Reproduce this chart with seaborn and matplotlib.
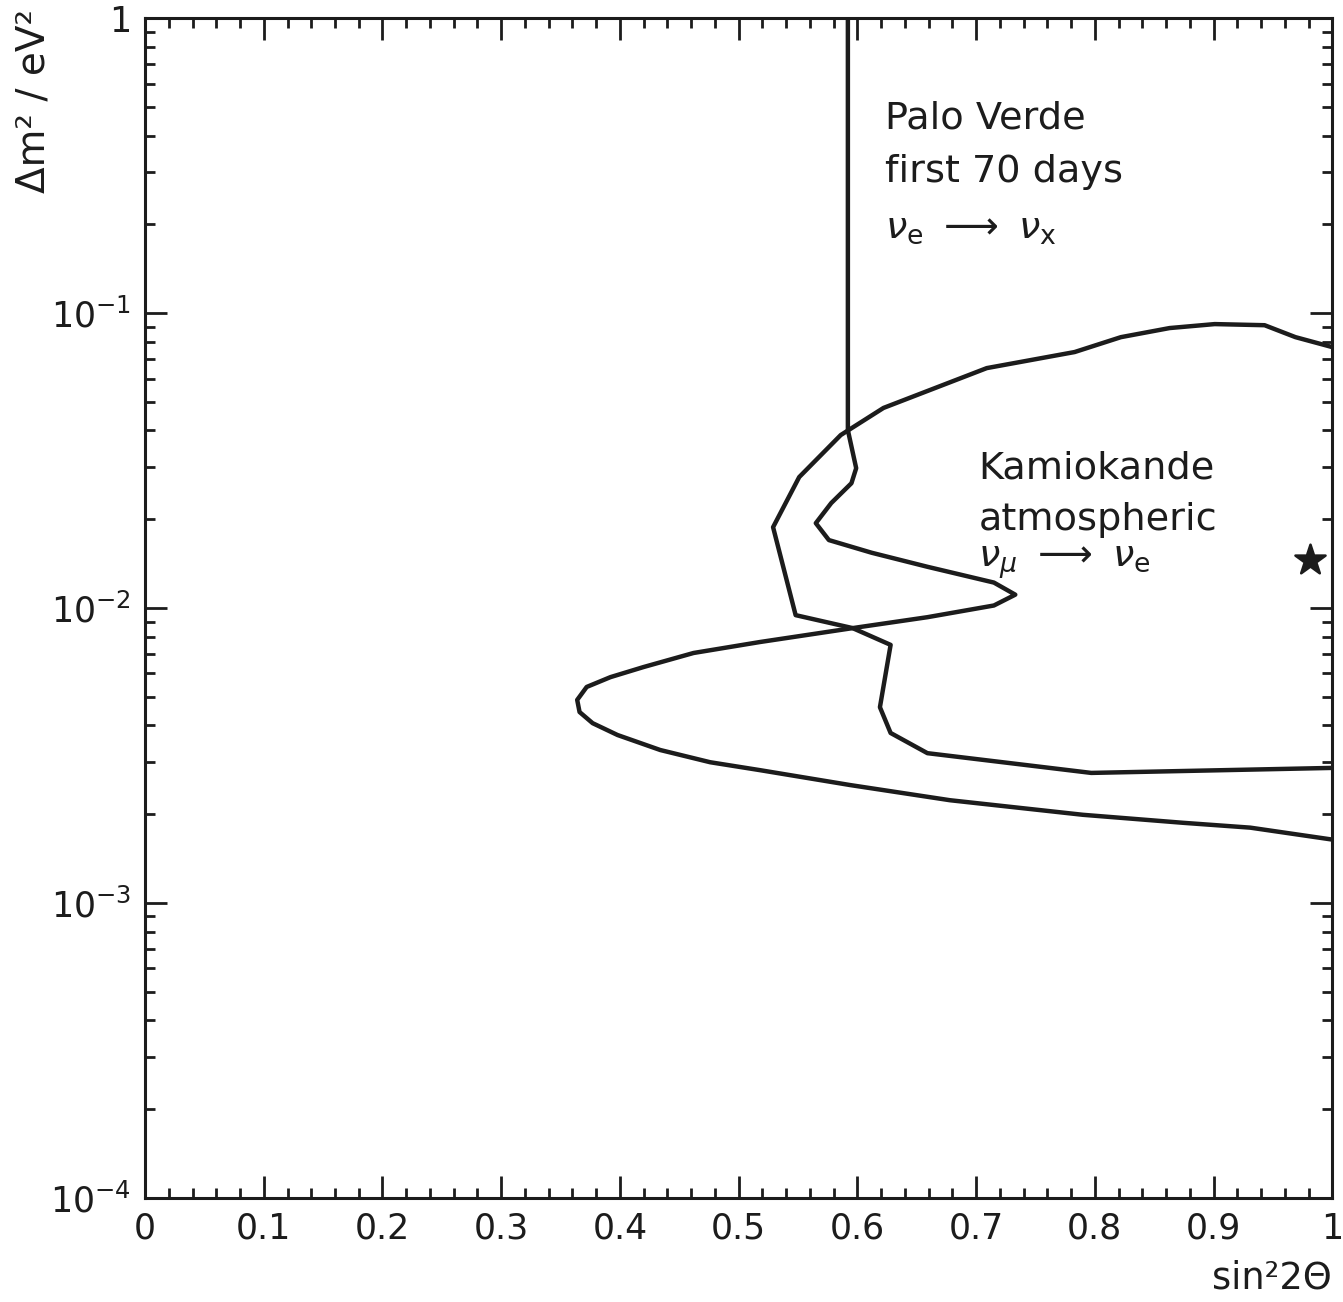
import numpy as np
import pandas as pd
import matplotlib
matplotlib.use("Agg")
import matplotlib.pyplot as plt
import matplotlib.ticker as mticker
import seaborn as sns

# Palo Verde exclusion curve (first 70 days)
pv_sin2 = [0.592, 0.592, 0.599, 0.595, 0.578, 0.565, 0.576, 0.612, 0.659, 0.715,
           0.733, 0.715, 0.659, 0.602, 0.518, 0.462, 0.420, 0.392, 0.372, 0.364,
           0.366, 0.377, 0.398, 0.434, 0.476, 0.518, 0.594, 0.678, 0.790, 0.874,
           0.931, 1.0]
pv_dm2 = [1.0, 0.0401, 0.0298, 0.0265, 0.0227, 0.0194, 0.0170, 0.0154, 0.0138, 0.0122,
          0.0111, 0.0102, 0.00931, 0.00862, 0.00767, 0.00704, 0.00631, 0.00583, 0.00540, 0.00488,
          0.00444, 0.00407, 0.00371, 0.00330, 0.00300, 0.00282, 0.00251, 0.00223, 0.00199, 0.00187,
          0.00180, 0.00164]

# Kamiokande atmospheric allowed region
ka_sin2 = [1.0, 0.969, 0.943, 0.901, 0.863, 0.822, 0.783, 0.709, 0.622, 0.586,
           0.551, 0.529, 0.548, 0.596, 0.628, 0.619, 0.628, 0.659, 0.797, 1.0]
ka_dm2 = [0.0767, 0.0829, 0.0910, 0.0918, 0.0890, 0.0829, 0.0738, 0.0651, 0.0477, 0.0386,
          0.0278, 0.0188, 0.00946, 0.00855, 0.00750, 0.00461, 0.00377, 0.00322, 0.00276, 0.00287]

# best fit point
best_sin2 = [0.981]
best_dm2 = [0.01455]

x_ticks = [0, 0.1, 0.2, 0.3, 0.4, 0.5, 0.6, 0.7, 0.8, 0.9, 1.0]
x_ticklabels = ["0", "0.1", "0.2", "0.3", "0.4", "0.5", "0.6", "0.7", "0.8", "0.9", "1"]
y_ticks = [1e-4, 1e-3, 1e-2, 1e-1, 1]
y_ticklabels = [r"$10^{-4}$", r"$10^{-3}$", r"$10^{-2}$", r"$10^{-1}$", "1"]

sns.set_theme(style="ticks")
plt.rcParams['font.family'] = ['DejaVu Sans']
plt.rcParams['mathtext.fontset'] = 'dejavusans'

INK = "#1c1c1c"

pv = pd.DataFrame({"sin2": pv_sin2, "dm2": pv_dm2})
ka = pd.DataFrame({"sin2": ka_sin2, "dm2": ka_dm2})

fig = plt.figure(figsize=(13.43, 13.02), dpi=100)
ax = fig.add_axes([0.108, 0.080, 0.884, 0.906])

sns.lineplot(data=pv, x="sin2", y="dm2", sort=False, estimator=None, color=INK, lw=3.2, ax=ax)
sns.lineplot(data=ka, x="sin2", y="dm2", sort=False, estimator=None, color=INK, lw=3.2, ax=ax)
sns.scatterplot(x=best_sin2, y=best_dm2, marker="*", s=520, color=INK, edgecolor=INK, ax=ax, zorder=5)

ax.set_yscale("log")
ax.set_xlim(0, 1)
ax.set_ylim(1e-4, 1)

ax.set_xticks(x_ticks)
ax.set_xticklabels(x_ticklabels)
ax.xaxis.set_minor_locator(mticker.MultipleLocator(0.02))
ax.set_yticks(y_ticks)
ax.set_yticklabels(y_ticklabels)
ax.yaxis.set_minor_locator(mticker.LogLocator(base=10, subs=np.arange(2, 10), numticks=20))
ax.yaxis.set_minor_formatter(mticker.NullFormatter())

ax.tick_params(which="both", direction="in", top=True, right=True, color=INK, width=2)
ax.tick_params(which="major", length=16, labelsize=25, labelcolor=INK, pad=10)
ax.tick_params(which="minor", length=7.5)
for s in ax.spines.values():
    s.set_linewidth(2.2)
    s.set_color(INK)

ax.set_xlabel("sin²2Θ", loc="right", fontsize=26.5, color=INK)
ax.xaxis.set_label_coords(1.0, -0.052)
ax.set_ylabel("Δm² / eV²", loc="top", fontsize=28, color=INK)
ax.yaxis.set_label_coords(-0.078, 1.008)

txt = dict(fontsize=27.5, color=INK, ha="left", va="center")
ax.text(0.623, 0.458, "Palo Verde", **txt)
ax.text(0.623, 0.300, "first 70 days", **txt)
ax.text(0.623, 0.195, r"$\nu_{\mathrm{e}}\ \longrightarrow\ \nu_{\mathrm{x}}$", **txt)
ax.text(0.702, 0.0298, "Kamiokande", **txt)
ax.text(0.702, 0.0199, "atmospheric", **txt)
ax.text(0.702, 0.0143, r"$\nu_{\mu}\ \longrightarrow\ \nu_{\mathrm{e}}$", **txt)

fig.savefig("out.png", dpi=100, facecolor="white")
